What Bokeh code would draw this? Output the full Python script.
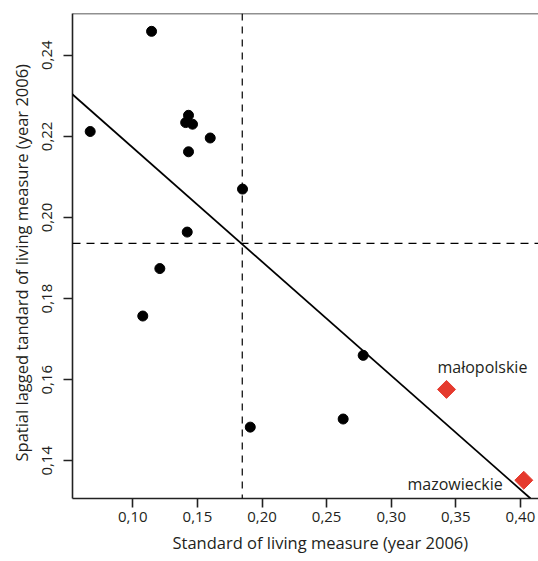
import math
from bokeh.plotting import figure
from bokeh.models import (Range1d, FixedTicker, CustomJSTickFormatter, Span, Slope,
                          ColumnDataSource, LabelSet, Title)
from bokeh.core.properties import value
from bokeh.embed import file_html
from bokeh.resources import INLINE

# Data
x_black = [0.1145, 0.067, 0.1431, 0.1409, 0.1462, 0.1599, 0.1431, 0.1849,
           0.1421, 0.1209, 0.1077, 0.1909, 0.2783, 0.2628]
y_black = [0.2459, 0.2212, 0.2252, 0.2234, 0.2230, 0.2196, 0.2162, 0.2070,
           0.1964, 0.1874, 0.1757, 0.1483, 0.1660, 0.1503]
red_names = ["małopolskie", "mazowieckie"]
x_red = [0.3428, 0.4026]
y_red = [0.1576, 0.1352]
mean_x = 0.1847
mean_y = 0.1936
reg_slope = -0.281
reg_intercept = 0.2453
x_ticks = [0.10, 0.15, 0.20, 0.25, 0.30, 0.35, 0.40]
y_ticks = [0.14, 0.16, 0.18, 0.20, 0.22, 0.24]
x_title = "Standard of living measure (year 2006)"
y_title = "Spatial lagged tandard of living measure (year 2006)"

FONT = "Open Sans"
TXT = "#231f20"

p = figure(width=538, height=557, output_backend="svg", toolbar_location=None,
           x_range=Range1d(0.0533, 0.4140), y_range=Range1d(0.1307, 0.2503),
           min_border_left=72, min_border_top=13, min_border_bottom=0, min_border_right=0)
p.outline_line_color = None
p.xgrid.visible = False
p.ygrid.visible = False
p.background_fill_color = "white"

fmt = CustomJSTickFormatter(code="return tick.toFixed(2).replace('.', ',');")
for ax, ticks in ((p.xaxis[0], x_ticks), (p.yaxis[0], y_ticks)):
    ax.ticker = FixedTicker(ticks=ticks)
    ax.formatter = fmt
    ax.minor_tick_line_color = None
    ax.major_tick_out = 9
    ax.major_tick_in = 0
    ax.axis_line_width = 1.6
    ax.axis_line_color = "#222222"
    ax.major_tick_line_width = 1.6
    ax.major_tick_line_color = "#222222"
    ax.major_label_text_font = FONT
    ax.major_label_text_font_size = "15px"
    ax.major_label_text_color = TXT
    ax.major_label_standoff = 4

p.yaxis[0].major_label_orientation = "vertical"
p.yaxis[0].major_label_standoff = 11

# axis titles placed as titles so they can be shifted like in the reference
p.add_layout(Title(text=x_title, align="left", offset=100, standoff=8,
                   text_font=FONT, text_font_size="16.5px", text_font_style="normal",
                   text_color=TXT), "below")
p.add_layout(Title(text=y_title, align="left", offset=37, standoff=14,
                   text_font=FONT, text_font_size="16.5px", text_font_style="normal",
                   text_color=TXT), "left")

# top border line
p.add_layout(Span(location=0.2503, dimension="width", line_color="#222222", line_width=1.6))

# mean lines
p.add_layout(Span(location=mean_x, dimension="height", line_color="black",
                  line_width=1.2, line_dash="7 6"))
p.add_layout(Span(location=mean_y, dimension="width", line_color="black",
                  line_width=1.2, line_dash="8 6"))

# regression line
p.add_layout(Slope(gradient=reg_slope, y_intercept=reg_intercept, line_color="black", line_width=1.8))

p.scatter(x_black, y_black, size=10, marker="circle", color="black")

src = ColumnDataSource(dict(x=x_red, y=y_red, name=red_names,
                            xo=[-9, -21], yo=[22, -4], align=["left", "right"]))
p.scatter("x", "y", source=src, size=12.7, marker="square", angle=math.pi / 4,
          color="#e53a2e", line_color="#e53a2e")
p.add_layout(LabelSet(x="x", y="y", text="name", source=src, x_offset="xo", y_offset="yo",
                      text_align="align", text_baseline="middle",
                      text_font=value(FONT), text_font_size=value("16px"), text_color=TXT))

open("out.html", "w").write(file_html(p, INLINE))
